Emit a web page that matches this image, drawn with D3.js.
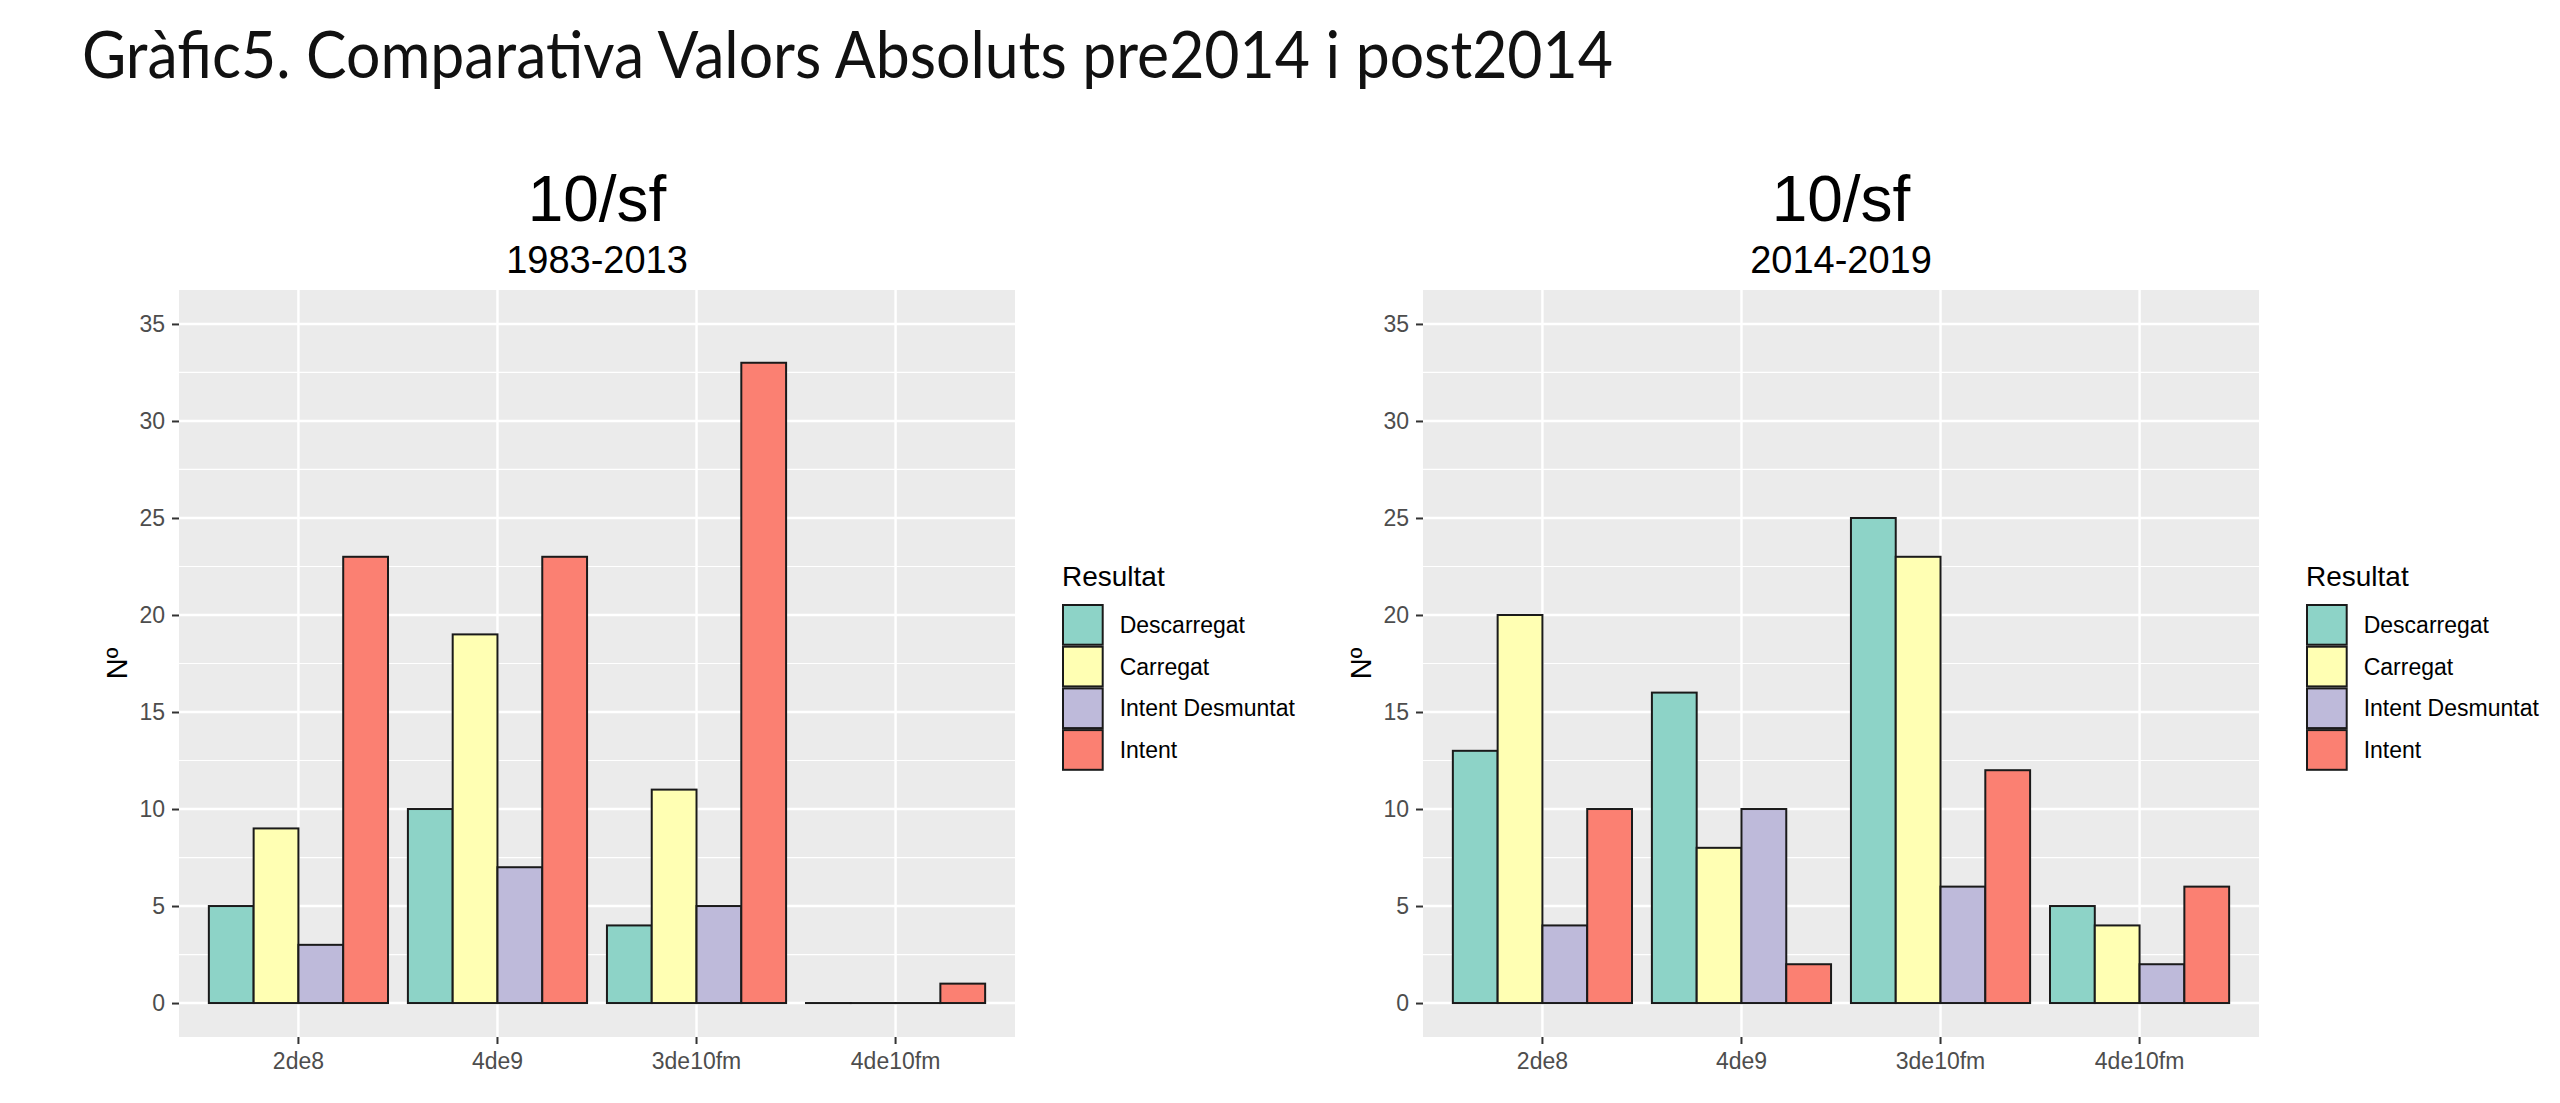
<!DOCTYPE html>
<html>
<head>
<meta charset="utf-8">
<script src="https://cdn.jsdelivr.net/npm/d3@7"></script>
<style>
  body { margin: 0; background: #fff; }
  svg { display: block; }
</style>
</head>
<body>
<div id="chart"></div>
<script>
// categories and series
const categories = ["2de8", "4de9", "3de10fm", "4de10fm"];
const series = ["Descarregat", "Carregat", "Intent Desmuntat", "Intent"];
const series_colors = ["#8DD3C7", "#FFFFB3", "#BEBADA", "#FB8072"];

// 1983-2013 values, one list per series (in category order)
const pre_descarregat = [5, 10, 4, 0];
const pre_carregat = [9, 19, 11, 0];
const pre_desmuntat = [3, 7, 5, 0];
const pre_intent = [23, 23, 33, 1];

// 2014-2019 values
const post_descarregat = [13, 16, 25, 5];
const post_carregat = [20, 8, 23, 4];
const post_desmuntat = [4, 10, 6, 2];
const post_intent = [10, 2, 12, 6];

const y_ticks = [0, 5, 10, 15, 20, 25, 30, 35];
const y_minor = [2.5, 7.5, 12.5, 17.5, 22.5, 27.5, 32.5];

const main_title = "Gràfic5. Comparativa Valors Absoluts pre2014 i post2014";
const panel_titles = ["10/sf", "10/sf"];
const panel_subtitles = ["1983-2013", "2014-2019"];
const y_title = "Nº";
const legend_title = "Resultat";

const W = 2560, H = 1103;
const font = "'Liberation Sans', Arial, sans-serif";

let svg = d3.select("#chart")
    .append("svg")
    .attr("width", W)
    .attr("height", H)
    .style("background", "#fff");

svg.append("text")
    .attr("x", 82)
    .attr("y", 78)
    .attr("font-family", "Lato, 'Noto Sans', sans-serif")
    .attr("font-size", 66)
    .attr("fill", "#111")
    .attr("textLength", 1531)
    .attr("lengthAdjust", "spacingAndGlyphs")
    .text(main_title);

function to_rows(lists) {
    // build {cat, key, value} rows from the per-series lists
    let rows = [];
    categories.forEach((c, i) => {
        series.forEach((s, j) => {
            rows.push({cat: c, key: s, value: lists[j][i]});
        });
    });
    return rows;
}

function draw_panel(offset, rows, title, subtitle) {
    let left = 179 + offset, right = 1015 + offset;
    let top = 290, bottom = 1037;

    let x = d3.scaleBand().domain(categories).range([left, right])
        .paddingInner(0.1).paddingOuter(0.15);
    let xs = d3.scaleBand().domain(series).range([0, x.bandwidth()]);
    let y = d3.scaleLinear().domain([-1.75, 36.75]).range([bottom, top]);
    let color = d3.scaleOrdinal().domain(series).range(series_colors);

    let g = svg.append("g");

    // panel background
    g.append("rect")
        .attr("x", left).attr("y", top)
        .attr("width", right - left).attr("height", bottom - top)
        .attr("fill", "#EBEBEB");

    g.selectAll(".minor").data(y_minor).enter()
        .append("line")
        .attr("x1", left).attr("x2", right)
        .attr("y1", d => y(d)).attr("y2", d => y(d))
        .attr("stroke", "#fff").attr("stroke-width", 1.2);

    g.selectAll(".major").data(y_ticks).enter()
        .append("line")
        .attr("x1", left).attr("x2", right)
        .attr("y1", d => y(d)).attr("y2", d => y(d))
        .attr("stroke", "#fff").attr("stroke-width", 2.4);

    g.selectAll(".vmajor").data(categories).enter()
        .append("line")
        .attr("x1", d => x(d) + x.bandwidth()/2)
        .attr("x2", d => x(d) + x.bandwidth()/2)
        .attr("y1", top).attr("y2", bottom)
        .attr("stroke", "#fff").attr("stroke-width", 2.4);

    // bars (zero values still show their outline, like ggplot)
    g.selectAll(".bar").data(rows).enter()
        .append("rect")
        .attr("x", d => x(d.cat) + xs(d.key))
        .attr("y", d => y(d.value))
        .attr("width", xs.bandwidth())
        .attr("height", d => Math.max(y(0) - y(d.value), 0.01))
        .attr("fill", d => color(d.key))
        .attr("stroke", "#1a1a1a")
        .attr("stroke-width", 2);

    // axes
    let y_axis = g.append("g")
        .attr("transform", "translate(" + left + ",0)")
        .call(d3.axisLeft(y).tickValues(y_ticks).tickSize(7).tickPadding(7));
    let x_axis = g.append("g")
        .attr("transform", "translate(0," + bottom + ")")
        .call(d3.axisBottom(x).tickSize(7).tickPadding(9));

    [y_axis, x_axis].forEach(a => {
        a.select(".domain").remove();
        a.selectAll(".tick line").attr("stroke", "#333").attr("stroke-width", 2);
        a.selectAll(".tick text")
            .attr("fill", "#4D4D4D")
            .attr("font-family", font)
            .attr("font-size", 23);
    });

    // titles
    let cx = (left + right) / 2;
    g.append("text")
        .attr("x", cx).attr("y", 221)
        .attr("text-anchor", "middle")
        .attr("font-family", font)
        .attr("font-size", 64)
        .attr("fill", "#000")
        .text(title);
    g.append("text")
        .attr("x", cx).attr("y", 273)
        .attr("text-anchor", "middle")
        .attr("font-family", font)
        .attr("font-size", 38)
        .attr("fill", "#000")
        .text(subtitle);

    g.append("text")
        .attr("transform", "translate(" + (left - 52) + "," + ((top + bottom)/2) + ") rotate(-90)")
        .attr("text-anchor", "middle")
        .attr("font-family", font)
        .attr("font-size", 29)
        .attr("fill", "#000")
        .text(y_title);

    // legend
    let lx = right + 47, ly = 604, key = 41.7;
    g.append("text")
        .attr("x", lx).attr("y", 586)
        .attr("font-family", font)
        .attr("font-size", 28)
        .attr("fill", "#000")
        .text(legend_title);

    let items = g.selectAll(".legend").data(series).enter()
        .append("g")
        .attr("transform", (d, i) => "translate(" + lx + "," + (ly + i * key) + ")");
    items.append("rect")
        .attr("x", 1).attr("y", 1)
        .attr("width", key - 2).attr("height", key - 2)
        .attr("fill", d => color(d))
        .attr("stroke", "#1a1a1a")
        .attr("stroke-width", 2);
    items.append("text")
        .attr("x", key + 16).attr("y", key/2)
        .attr("dy", "0.35em")
        .attr("font-family", font)
        .attr("font-size", 23)
        .attr("fill", "#000")
        .text(d => d);
}

let pre_rows = to_rows([pre_descarregat, pre_carregat, pre_desmuntat, pre_intent]);
let post_rows = to_rows([post_descarregat, post_carregat, post_desmuntat, post_intent]);

draw_panel(0, pre_rows, panel_titles[0], panel_subtitles[0]);
draw_panel(1244, post_rows, panel_titles[1], panel_subtitles[1]);
</script>
</body>
</html>
